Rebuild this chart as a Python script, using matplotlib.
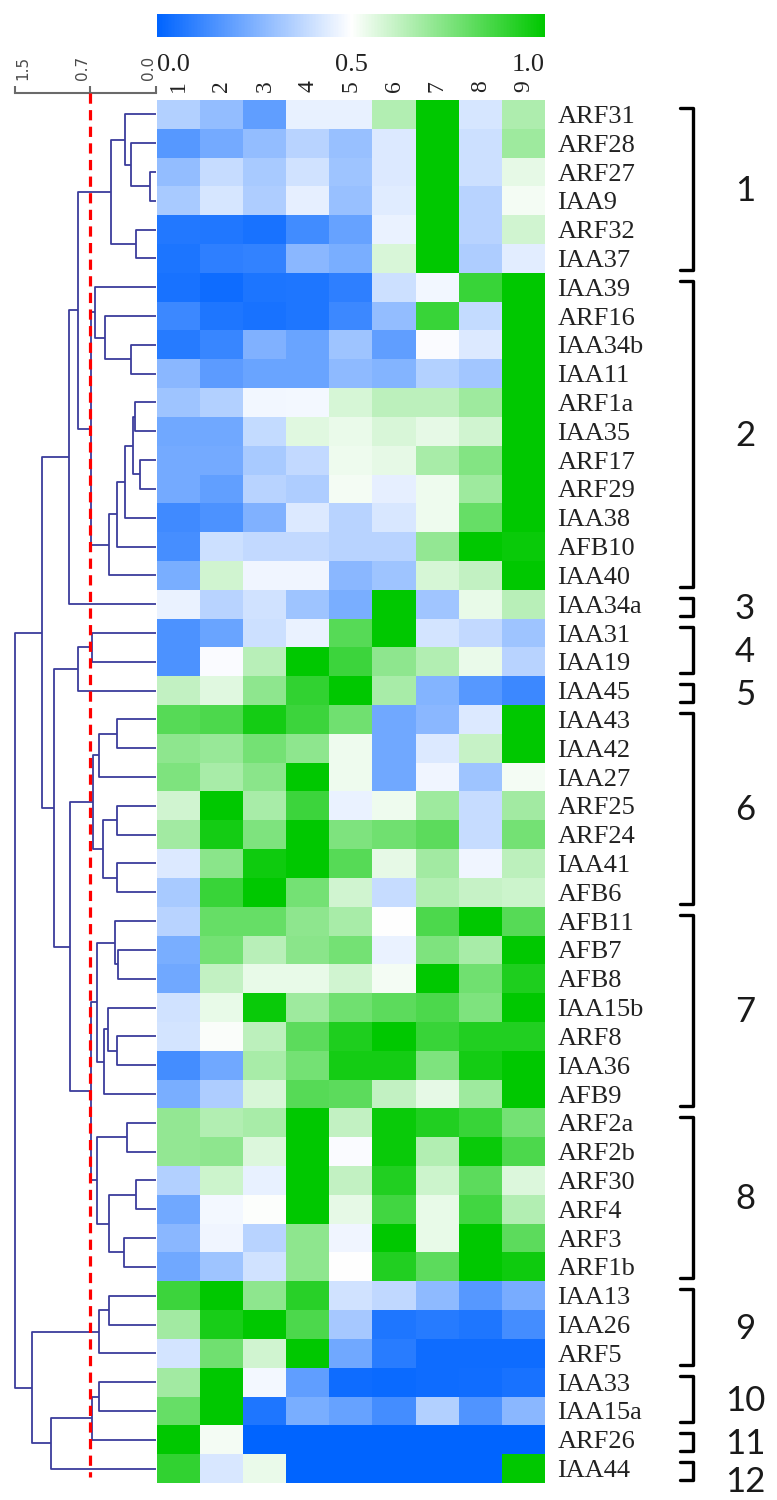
import matplotlib
matplotlib.use("Agg")
import numpy as np
from matplotlib import pyplot as plt
from matplotlib.colors import LinearSegmentedColormap
from matplotlib.transforms import blended_transform_factory

# row order of the heatmap (top to bottom)
genes = ["ARF31", "ARF28", "ARF27", "IAA9", "ARF32", "IAA37",
         "IAA39", "ARF16", "IAA34b", "IAA11", "ARF1a", "IAA35", "ARF17", "ARF29",
         "IAA38", "AFB10", "IAA40", "IAA34a", "IAA31", "IAA19", "IAA45",
         "IAA43", "IAA42", "IAA27", "ARF25", "ARF24", "IAA41", "AFB6",
         "AFB11", "AFB7", "AFB8", "IAA15b", "ARF8", "IAA36", "AFB9",
         "ARF2a", "ARF2b", "ARF30", "ARF4", "ARF3", "ARF1b",
         "IAA13", "IAA26", "ARF5", "IAA33", "IAA15a", "ARF26", "IAA44"]
samples = ["1", "2", "3", "4", "5", "6", "7", "8", "9"]

expr = [
    [0.35, 0.29, 0.19, 0.455, 0.455, 0.65, 1.0, 0.42, 0.66],
    [0.17, 0.23, 0.29, 0.36, 0.30, 0.43, 1.0, 0.40, 0.69],
    [0.29, 0.39, 0.33, 0.41, 0.31, 0.43, 1.0, 0.40, 0.55],
    [0.33, 0.42, 0.34, 0.45, 0.30, 0.44, 1.0, 0.36, 0.52],
    [0.07, 0.065, 0.05, 0.13, 0.20, 0.46, 1.0, 0.36, 0.59],
    [0.055, 0.09, 0.10, 0.27, 0.24, 0.575, 1.0, 0.34, 0.445],
    [0.05, 0.03, 0.055, 0.06, 0.09, 0.40, 0.475, 0.89, 1.0],
    [0.12, 0.06, 0.05, 0.06, 0.12, 0.29, 0.89, 0.385, 1.0],
    [0.075, 0.11, 0.25, 0.21, 0.31, 0.19, 0.49, 0.43, 1.0],
    [0.27, 0.18, 0.21, 0.21, 0.28, 0.26, 0.355, 0.32, 1.0],
    [0.31, 0.35, 0.475, 0.48, 0.58, 0.63, 0.63, 0.69, 1.0],
    [0.22, 0.22, 0.385, 0.56, 0.54, 0.575, 0.55, 0.59, 1.0],
    [0.23, 0.23, 0.33, 0.38, 0.535, 0.55, 0.67, 0.74, 1.0],
    [0.23, 0.195, 0.36, 0.34, 0.52, 0.45, 0.535, 0.69, 1.0],
    [0.125, 0.15, 0.25, 0.43, 0.36, 0.425, 0.535, 0.80, 1.0],
    [0.14, 0.40, 0.38, 0.38, 0.36, 0.36, 0.71, 1.0, 0.98],
    [0.24, 0.59, 0.47, 0.47, 0.27, 0.31, 0.58, 0.62, 1.0],
    [0.46, 0.36, 0.41, 0.31, 0.24, 1.0, 0.315, 0.545, 0.64],
    [0.15, 0.21, 0.40, 0.46, 0.83, 1.0, 0.415, 0.38, 0.31],
    [0.15, 0.49, 0.64, 1.0, 0.88, 0.72, 0.65, 0.54, 0.36],
    [0.62, 0.56, 0.72, 0.90, 1.0, 0.67, 0.26, 0.17, 0.12],
    [0.83, 0.85, 0.96, 0.88, 0.78, 0.22, 0.27, 0.43, 1.0],
    [0.72, 0.70, 0.77, 0.72, 0.535, 0.22, 0.43, 0.61, 1.0],
    [0.75, 0.67, 0.73, 1.0, 0.535, 0.22, 0.47, 0.31, 0.52],
    [0.59, 1.0, 0.67, 0.88, 0.46, 0.535, 0.69, 0.39, 0.68],
    [0.68, 0.96, 0.75, 1.0, 0.75, 0.78, 0.82, 0.39, 0.77],
    [0.43, 0.73, 0.97, 1.0, 0.83, 0.55, 0.68, 0.47, 0.63],
    [0.33, 0.89, 1.0, 0.77, 0.59, 0.39, 0.65, 0.61, 0.60],
    [0.36, 0.80, 0.80, 0.72, 0.67, 0.50, 0.85, 1.0, 0.83],
    [0.24, 0.77, 0.64, 0.73, 0.77, 0.46, 0.75, 0.67, 1.0],
    [0.22, 0.62, 0.545, 0.545, 0.59, 0.52, 1.0, 0.78, 0.94],
    [0.41, 0.545, 0.98, 0.69, 0.78, 0.82, 0.85, 0.75, 1.0],
    [0.415, 0.51, 0.63, 0.82, 0.94, 1.0, 0.89, 0.93, 0.93],
    [0.135, 0.22, 0.67, 0.77, 0.96, 0.96, 0.75, 0.96, 1.0],
    [0.24, 0.34, 0.575, 0.83, 0.82, 0.62, 0.55, 0.69, 1.0],
    [0.71, 0.65, 0.67, 1.0, 0.62, 0.98, 0.93, 0.89, 0.77],
    [0.71, 0.72, 0.57, 1.0, 0.49, 0.98, 0.65, 0.98, 0.85],
    [0.35, 0.60, 0.455, 1.0, 0.62, 0.93, 0.60, 0.82, 0.57],
    [0.22, 0.48, 0.505, 1.0, 0.55, 0.87, 0.545, 0.87, 0.65],
    [0.27, 0.47, 0.36, 0.72, 0.47, 1.0, 0.545, 1.0, 0.82],
    [0.22, 0.31, 0.41, 0.72, 0.50, 0.93, 0.82, 1.0, 0.97],
    [0.88, 1.0, 0.72, 0.92, 0.41, 0.375, 0.28, 0.17, 0.235],
    [0.68, 0.95, 1.0, 0.85, 0.325, 0.06, 0.075, 0.06, 0.135],
    [0.415, 0.78, 0.59, 1.0, 0.22, 0.08, 0.03, 0.03, 0.03],
    [0.68, 1.0, 0.48, 0.19, 0.03, 0.02, 0.03, 0.035, 0.05],
    [0.80, 1.0, 0.06, 0.24, 0.20, 0.135, 0.35, 0.16, 0.27],
    [1.0, 0.52, 0.0, 0.0, 0.0, 0.0, 0.0, 0.0, 0.0],
    [0.90, 0.425, 0.54, 0.0, 0.0, 0.0, 0.0, 0.0, 1.0],
]

# clusters cut at distance 0.7 (sizes in row order)
cluster_sizes = [6, 11, 1, 2, 1, 7, 7, 6, 3, 2, 1, 1]
cut_height = 0.7

# dendrogram: (left, right, merge distance)
cl1 = (("ARF31", ("ARF28", ("ARF27", "IAA9", 0.06), 0.27), 0.33),
       ("ARF32", "IAA37", 0.21), 0.48)
cl2 = (("IAA39", ("ARF16", ("IAA34b", "IAA11", 0.27), 0.54), 0.65),
       ((((("ARF1a", "IAA35", 0.22), ("ARF17", "ARF29", 0.17), 0.24),
          "IAA38", 0.33), "AFB10", 0.42), "IAA40", 0.50), 0.69)
cl6 = ((("IAA43", "IAA42", 0.42), "IAA27", 0.61),
       (("ARF25", "ARF24", 0.42), ("IAA41", "AFB6", 0.42), 0.56), 0.67)
cl7 = (("AFB11", ("AFB7", "AFB8", 0.40), 0.44),
       (("IAA15b", ("ARF8", "IAA36", 0.42), 0.51), "AFB9", 0.55), 0.63)
cl8 = (("ARF2a", "ARF2b", 0.31),
       (("ARF30", "ARF4", 0.21), ("ARF3", "ARF1b", 0.34), 0.50), 0.63)
cl9 = (("IAA13", "IAA26", 0.50), "ARF5", 0.61)
upper = ((((cl1, cl2, 0.83), "IAA34a", 0.93),
          ((("IAA31", "IAA19", 0.68), "IAA45", 0.83),
           (cl6, (cl7, cl8, 0.69), 0.92), 1.09), 1.21))
lower = (cl9, (((("IAA33", "IAA15a", 0.61), "ARF26", 0.68), "IAA44", 1.12)), 1.32)
tree = (upper, lower, 1.50)

W, H = 777, 1500


def box(x0, y0, x1, y1):
    # pixel box (top-left origin) -> figure fraction
    return [x0 / W, 1 - y1 / H, (x1 - x0) / W, (y1 - y0) / H]


serif = ["Liberation Serif", "DejaVu Serif"]
cmap = LinearSegmentedColormap.from_list("bwg", ["#0064ff", "#ffffff", "#00c800"])

fig = plt.figure(figsize=(W / 100, H / 100), dpi=100)

# heatmap
ax = fig.add_axes(box(157.3, 100, 545, 1483))
data = np.array(expr)
im = ax.imshow(data, cmap=cmap, vmin=0, vmax=1, aspect="auto", interpolation="nearest")
ax.set_xticks(np.arange(len(samples)))
ax.set_xticklabels(samples, rotation=90, fontsize=17, family=serif, color="#222222")
ax.xaxis.tick_top()
ax.set_yticks(np.arange(len(genes)))
ax.set_yticklabels(genes, fontsize=19, family=serif, color="#222222")
ax.yaxis.tick_right()
ax.tick_params(axis="both", length=0)
ax.tick_params(axis="x", pad=6)
ax.tick_params(axis="y", pad=9)
for s in ax.spines.values():
    s.set_visible(False)

# cluster brackets and numbers
trans = blended_transform_factory(ax.transAxes, ax.transData)
x_hook, x_bar, x_num = 1.348, 1.382, 1.516
start = 0
last_y = -10.0
for i, n in enumerate(cluster_sizes):
    top = start - 0.5 + 0.28
    bot = start + n - 0.5 - 0.1
    ax.plot([x_hook, x_bar, x_bar, x_hook], [top, top, bot, bot], transform=trans,
            color="black", lw=2.4, clip_on=False, solid_joinstyle="round",
            solid_capstyle="round")
    # keep neighbouring numbers apart
    y_num = max(start + n / 2 - 0.5 + 0.15, last_y + 1.3)
    ax.text(x_num, y_num, str(i + 1), transform=trans,
            ha="center", va="center", fontsize=25, family=["Lato", "DejaVu Sans"],
            color="#1a1a1a")
    last_y = y_num
    start += n

# colorbar
cax = fig.add_axes(box(157.3, 14, 545, 37))
cb = fig.colorbar(im, cax=cax, orientation="horizontal", ticks=[0, 0.5, 1])
cb.outline.set_visible(False)
cb.ax.set_xticklabels(["0.0", "0.5", "1.0"], fontsize=19, family=serif, color="#222222")
cb.ax.tick_params(length=0, pad=12)
labels = cb.ax.get_xticklabels()
labels[0].set_ha("left")
labels[2].set_ha("right")

# dendrogram
dn = fig.add_axes(box(0, 92.7, 156, 1483))
line_kw = dict(color="#3b3d9c", lw=1.3, clip_on=False, solid_capstyle="butt")


def draw(node):
    if isinstance(node, str):
        return genes.index(node), 0.0
    left, right, h = node
    yl, hl = draw(left)
    yr, hr = draw(right)
    dn.plot([hl, h, h, hr], [yl, yl, yr, yr], **line_kw)
    return (yl + yr) / 2, h


draw(tree)
dn.plot([cut_height, cut_height], [-0.75, 47.3], color="red", lw=2.3,
        ls=(0, (3.2, 2.0)), clip_on=False, zorder=5)
dn.set_xlim(156 / 94, 0)
dn.set_ylim(len(genes) - 0.5, -0.75)

# distance scale on the top spine
for side in ["left", "right", "bottom"]:
    dn.spines[side].set_visible(False)
dn.spines["top"].set_bounds(0, 1.5)
dn.spines["top"].set_color("#6a6a6a")
dn.spines["top"].set_linewidth(1.5)
dn.set_yticks([])
dn.xaxis.tick_top()
dn.set_xticks([1.5, 0.7, 0.0])
dn.set_xticklabels(["1.5", "0.7", "0.0"], rotation=90, fontsize=11, color="#4a4a4a")
dn.tick_params(axis="x", direction="out", length=5, width=1.5, color="#6a6a6a", pad=4)
scale_labels = dn.get_xticklabels()
scale_labels[0].set_ha("left")
scale_labels[1].set_ha("right")
scale_labels[2].set_ha("right")

fig.savefig("out.png", dpi=100)
